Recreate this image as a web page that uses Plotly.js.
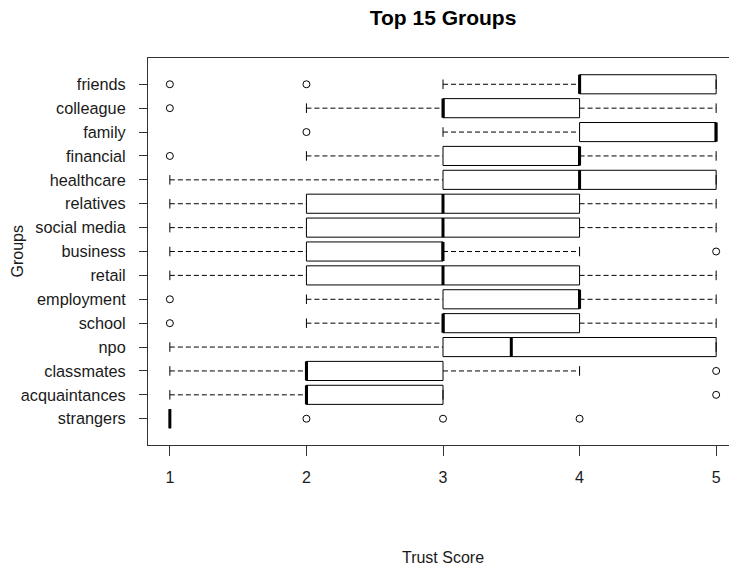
<!DOCTYPE html>
<html>
<head>
<meta charset="utf-8">
<script src="https://cdn.plot.ly/plotly-3.0.1.min.js"></script>
<style>
html, body { margin: 0; padding: 0; overflow: hidden; background: #fff; }
#chart { width: 760px; height: 568px; }
</style>
</head>
<body>
<div id="chart"></div>
<script>
// Data, top to bottom
var groups = ['friends','colleague','family','financial','healthcare','relatives','social media','business','retail','employment','school','npo','classmates','acquaintances','strangers'];
var whiskerLow  = [3, 2, 3, 2, 1, 1, 1, 1, 1, 2, 2, 1, 1, 1, 1];
var q1          = [4, 3, 4, 3, 3, 2, 2, 2, 2, 3, 3, 3, 2, 2, 1];
var medians     = [4, 3, 5, 4, 4, 3, 3, 3, 3, 4, 3, 3.5, 2, 2, 1];
var q3          = [5, 4, 5, 4, 5, 4, 4, 3, 4, 4, 4, 5, 3, 3, 1];
var whiskerHigh = [5, 5, 5, 5, 5, 5, 5, 4, 5, 5, 5, 5, 4, 3, 1];
var outlierGroups = ['friends','friends','colleague','family','financial','business','employment','school','classmates','acquaintances','strangers','strangers','strangers'];
var outlierValues = [1, 2, 1, 2, 1, 5, 1, 1, 5, 5, 2, 3, 4];
var xTicks = [1, 2, 3, 4, 5];

var n = groups.length;
function pos(i) { return n - i; }            // friends at top
function posOf(g) { return pos(groups.indexOf(g)); }
var half = 0.4, capHalf = 0.2;
var positions = groups.map(function (g, i) { return pos(i); });

var ink = '#000';
var textCol = '#1a1a1a';

// Boxes
var boxTrace = {
  type: 'box', orientation: 'h',
  y: positions, q1: q1, median: medians, q3: q3,
  lowerfence: q1, upperfence: q3,
  width: 0.8, whiskerwidth: 0,
  fillcolor: '#ffffff',
  line: { color: ink, width: 1 },
  boxpoints: false, hoverinfo: 'skip', showlegend: false
};

// Dashed whiskers, caps, medians
var wx = [], wy = [], cx = [], cy = [], mx = [], my = [];
for (var i = 0; i < n; i++) {
  var p = pos(i);
  if (whiskerLow[i] < q1[i]) { wx.push(whiskerLow[i], q1[i], null); wy.push(p, p, null); }
  if (whiskerHigh[i] > q3[i]) { wx.push(q3[i], whiskerHigh[i], null); wy.push(p, p, null); }
  cx.push(whiskerLow[i], whiskerLow[i], null, whiskerHigh[i], whiskerHigh[i], null);
  cy.push(p - capHalf, p + capHalf, null, p - capHalf, p + capHalf, null);
  mx.push(medians[i], medians[i], null);
  my.push(p - half, p + half, null);
}
var whiskerTrace = { type: 'scatter', mode: 'lines', x: wx, y: wy,
  line: { color: ink, width: 1, dash: '5px,3px' }, hoverinfo: 'skip', showlegend: false };
var capTrace = { type: 'scatter', mode: 'lines', x: cx, y: cy,
  line: { color: ink, width: 1 }, hoverinfo: 'skip', showlegend: false };
var medianTrace = { type: 'scatter', mode: 'lines', x: mx, y: my,
  line: { color: ink, width: 3 }, hoverinfo: 'skip', showlegend: false };
var outlierTrace = { type: 'scatter', mode: 'markers',
  x: outlierValues, y: outlierGroups.map(posOf),
  marker: { symbol: 'circle-open', size: 7, color: ink, line: { width: 1, color: ink } },
  hoverinfo: 'skip', showlegend: false };

var font = 'Liberation Sans, Arial, sans-serif';
var plotLeft = 148, plotWidth = 590;
var layout = {
  width: 760, height: 568,
  margin: { l: plotLeft, r: 22, t: 58, b: 123 },
  paper_bgcolor: '#fff', plot_bgcolor: '#fff',
  font: { family: font, size: 16, color: textCol },
  title: { text: '<b>Top 15 Groups</b>', font: { family: font, size: 21, color: '#000' },
           x: 0.5, xref: 'paper', xanchor: 'center', y: 1 - 18 / 568, yref: 'container', yanchor: 'middle' },
  xaxis: {
    range: [0.84, 5.16], tickvals: xTicks, ticktext: xTicks.map(String),
    showgrid: false, zeroline: false,
    showline: true, mirror: true, linecolor: '#333', linewidth: 1,
    ticks: 'outside', ticklen: 10, tickcolor: '#333', tickwidth: 1,
    ticklabelstandoff: 8,
    tickfont: { family: font, size: 16, color: textCol },
    title: { text: 'Trust Score', font: { family: font, size: 16, color: textCol }, standoff: 66 }
  },
  yaxis: {
    range: [-0.1, 16.1], tickvals: positions, ticktext: groups,
    showgrid: false, zeroline: false,
    showline: true, mirror: true, linecolor: '#333', linewidth: 1,
    ticks: 'outside', ticklen: 8, tickcolor: '#333', tickwidth: 1,
    ticklabelstandoff: 10,
    tickfont: { family: font, size: 16.3, color: textCol }
  },
  annotations: [{
    text: 'Groups', textangle: -90, showarrow: false,
    xref: 'paper', x: (17 - plotLeft) / plotWidth, xanchor: 'center',
    yref: 'paper', y: 0.5, yanchor: 'middle',
    font: { family: font, size: 16, color: textCol }
  }]
};

Plotly.newPlot('chart', [boxTrace, whiskerTrace, capTrace, medianTrace, outlierTrace], layout,
  { staticPlot: true, displayModeBar: false });
</script>
</body>
</html>
